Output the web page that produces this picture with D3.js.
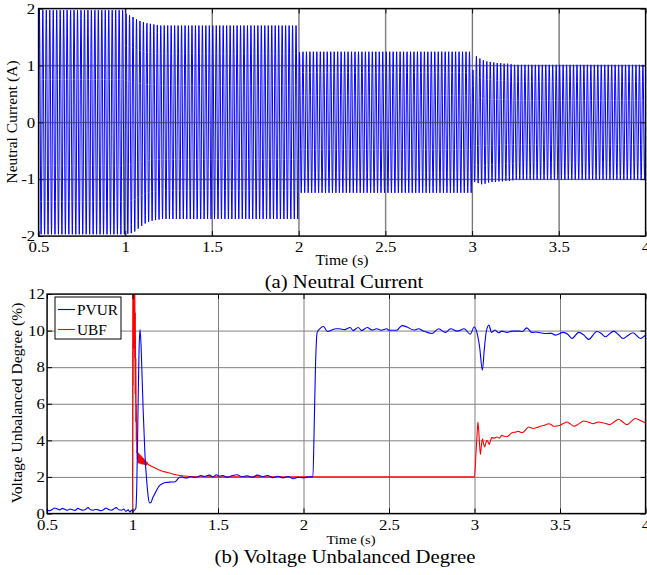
<!DOCTYPE html>
<html><head><meta charset="utf-8">
<script src="https://cdn.jsdelivr.net/npm/d3@7"></script>
<style>
body{margin:0;background:#fff;}
svg{display:block;font-family:"Liberation Serif","Times New Roman",serif;}
</style></head><body>
<svg id="fig" width="647" height="575"></svg>
<script>
// ---------- data ----------
const timeTicks = [0.5, 1, 1.5, 2, 2.5, 3, 3.5, 4];
const currentTicks = [-2, -1, 0, 1, 2];
const degreeTicks = [0, 2, 4, 6, 8, 10, 12];

// neutral current: 50 Hz supply, peak values per cycle
const supplyFreq = 50;
// [start s, end s, positive peak A, negative peak A]
const currentSteady = [
  [0.5, 1.0, 1.97, -1.97],
  [1.0, 2.0, 1.70, -1.70],
  [2.0, 3.0, 1.24, -1.24],
  [3.0, 4.0, 1.01, -1.01]
];
// cycle peaks just after each load step
const stepPos = {
  "1": [1.91, 1.88, 1.85, 1.81, 1.78, 1.76, 1.74, 1.73, 1.72, 1.71],
  "2": [1.23],
  "3": [0.92, 1.16, 1.12, 1.09, 1.07, 1.06, 1.05, 1.04, 1.04, 1.03, 1.03, 1.02]
};
const stepNeg = {
  "1": [-1.96, -1.95, -1.92, -1.87, -1.82, -1.78, -1.75, -1.73, -1.72, -1.71],
  "2": [-1.24],
  "3": [-1.05, -1.07, -1.09, -1.08, -1.06, -1.05, -1.05, -1.04, -1.04, -1.03, -1.03, -1.02]
};

// voltage unbalanced degree (%) : [time s, value]
const pvur = [
  [0.5,0.2],[0.515,0.15],[0.53,0.22],[0.545,0.3],[0.56,0.25],[0.575,0.2],[0.59,0.28],[0.605,0.22],
  [0.62,0.18],[0.635,0.25],[0.65,0.2],[0.665,0.17],[0.68,0.28],[0.695,0.22],[0.71,0.18],[0.725,0.22],
  [0.74,0.32],[0.755,0.2],[0.77,0.18],[0.785,0.22],[0.8,0.2],[0.815,0.15],[0.83,0.2],[0.845,0.3],
  [0.86,0.22],[0.875,0.18],[0.89,0.25],[0.905,0.32],[0.92,0.2],[0.935,0.18],[0.95,0.25],[0.96,0.12],
  [0.975,0.2],[0.985,0.08],[0.995,0.18],[1.005,0.12],[1.015,0.22],[1.02,0.3],[1.025,1.5],[1.032,5.5],
  [1.038,8.8],[1.044,10.05],[1.05,9.2],[1.057,7.2],[1.063,5.5],[1.073,3.2],[1.083,1.8],[1.092,0.9],
  [1.1,0.58],[1.108,0.6],[1.118,0.85],[1.132,1.1],[1.15,1.42],[1.161,1.55],[1.18,1.66],[1.2,1.7],
  [1.225,1.72],[1.25,1.74],[1.262,1.85],[1.275,1.98],[1.29,2.0],[1.3,1.96],[1.32,1.95],[1.34,2.02],
  [1.36,1.98],[1.38,2.0],[1.4,2.08],[1.42,2.02],[1.45,2.1],[1.47,2.0],[1.49,2.12],[1.51,2.04],
  [1.53,2.08],[1.55,1.98],[1.58,2.06],[1.61,2.12],[1.64,2.02],[1.67,2.06],[1.7,1.98],[1.73,2.1],
  [1.76,2.02],[1.79,2.08],[1.82,1.96],[1.85,2.04],[1.88,1.95],[1.91,2.02],[1.94,1.9],[1.97,1.98],
  [2.0,1.95],[2.03,2.0],[2.055,2.0],[2.062,4.5],[2.07,8.0],[2.08,9.9],[2.095,10.1],[2.117,10.22],
  [2.14,9.95],[2.17,10.05],[2.19,10.1],[2.207,10.1],[2.24,10.05],[2.273,10.17],[2.29,10.0],[2.32,10.17],
  [2.34,10.0],[2.373,10.17],[2.4,10.03],[2.428,10.1],[2.455,10.02],[2.487,10.1],[2.5,10.02],[2.545,10.02],
  [2.576,10.27],[2.605,10.2],[2.645,10.03],[2.673,10.1],[2.7,9.98],[2.751,9.84],[2.79,10.1],[2.83,9.9],
  [2.86,10.1],[2.9,9.97],[2.94,10.1],[2.975,9.8],[2.998,10.2],[3.014,9.9],[3.03,9.1],[3.046,7.84],
  [3.057,8.93],[3.069,9.95],[3.084,10.3],[3.1,9.9],[3.12,10.03],[3.14,9.88],[3.16,9.97],[3.19,9.9],
  [3.22,9.97],[3.258,9.97],[3.28,9.95],[3.306,10.15],[3.335,9.9],[3.36,9.92],[3.385,9.88],[3.424,9.84],
  [3.45,9.85],[3.473,9.75],[3.52,9.9],[3.545,9.8],[3.57,9.57],[3.61,9.9],[3.64,9.75],[3.668,9.52],
  [3.716,9.95],[3.74,9.85],[3.765,9.66],[3.814,9.97],[3.84,9.8],[3.869,9.57],[3.9,9.75],[3.927,9.88],
  [3.97,9.57],[4.0,9.75]
];
const ubf = [
  [0.5,0],[1.0,0],[1.002,12.8],[1.0035,7.0],[1.005,13],[1.0065,9],[1.008,13],[1.0095,10.5],[1.011,13],
  [1.0125,8.5],[1.014,12.5],[1.0155,6.5],[1.017,11],[1.0185,5],[1.02,8.5],[1.0215,4],[1.023,6],
  [1.0245,3.3],[1.026,4.2],[1.0275,3.0],[1.03,3.35],[1.0325,2.78],[1.035,3.3],[1.0375,2.75],[1.04,3.25],
  [1.0425,2.74],[1.045,3.2],[1.0475,2.72],[1.05,3.15],[1.0525,2.71],[1.055,3.1],[1.0575,2.7],[1.06,3.05],
  [1.0625,2.69],[1.065,3.0],[1.0675,2.68],[1.07,2.95],[1.0725,2.67],[1.075,2.9],[1.0775,2.66],[1.08,2.84],
  [1.0825,2.66],[1.085,2.78],[1.09,2.7],[1.1,2.64],[1.12,2.54],[1.16,2.37],[1.2,2.25],[1.24,2.15],
  [1.28,2.08],[1.32,2.04],[1.4,2.01],[1.5,2.0],[2.0,2.0],[2.5,2.0],[3.0,2.0],[3.008,3.2],[3.015,4.3],
  [3.02,5.0],[3.027,4.2],[3.034,3.23],[3.04,3.7],[3.047,4.09],[3.053,3.8],[3.059,3.64],[3.066,3.85],
  [3.073,4.0],[3.08,3.9],[3.086,3.78],[3.094,4.0],[3.102,4.15],[3.115,4.12],[3.131,4.18],[3.145,4.12],
  [3.16,4.27],[3.175,4.22],[3.19,4.2],[3.205,4.3],[3.219,4.42],[3.24,4.45],[3.258,4.49],[3.275,4.42],
  [3.287,4.46],[3.3,4.58],[3.316,4.73],[3.33,4.68],[3.345,4.65],[3.365,4.7],[3.385,4.77],[3.41,4.82],
  [3.433,4.91],[3.45,4.85],[3.46,4.77],[3.48,4.78],[3.5,4.82],[3.52,4.92],[3.541,5.0],[3.56,4.9],
  [3.58,4.77],[3.61,4.9],[3.638,5.06],[3.665,5.0],[3.695,4.91],[3.725,5.0],[3.755,4.95],[3.775,4.9],
  [3.79,4.86],[3.815,5.0],[3.843,5.15],[3.865,5.02],[3.892,4.86],[3.915,5.02],[3.94,5.19],[3.97,5.08],
  [4.0,4.95]
];

// ---------- layout ----------
const svg = d3.select("#fig");
const SX = 1.12;           // horizontal glyph stretch of the figure text
const gridColor = "#808080";

function label(g, x, y, txt, size, opts = {}) {
  const t = g.append("text")
    .attr("transform", opts.rotate
      ? `translate(${x},${y}) rotate(-90)`
      : `translate(${x},${y}) scale(${SX},1)`)
    .attr("text-anchor", "middle")
    .attr("font-size", size)
    .attr("fill", "#000")
    .text(txt);
  return t;
}

function panel(cfg) {
  const {x, y, yTicks, clipId} = cfg;
  const [L, R] = x.range(), [B, T] = y.range();
  const g = svg.append("g");

  g.append("clipPath").attr("id", clipId)
    .append("rect").attr("x", L).attr("y", T).attr("width", R - L).attr("height", B - T);

  const gridV = g.append("g").attr("class", "grid");
  const gridH = g.append("g").attr("class", "grid");
  gridV.attr("transform", `translate(0,${B})`)
    .call(d3.axisBottom(x).tickValues(timeTicks).tickSize(-(B - T)).tickFormat(""));
  gridH.attr("transform", `translate(${L},0)`)
    .call(d3.axisLeft(y).tickValues(yTicks).tickSize(-(R - L)).tickFormat(""));
  g.selectAll(".grid .domain").remove();
  g.selectAll(".grid line").attr("stroke", gridColor).attr("stroke-width", 1);

  const data = g.append("g").attr("clip-path", `url(#${clipId})`);

  // inward tick marks on all four sides, labels bottom and left
  const tk = 5;
  const ax = [
    g.append("g").attr("transform", `translate(0,${B})`)
      .call(d3.axisBottom(x).tickValues(timeTicks).tickSizeInner(-tk).tickSizeOuter(0)
        .tickPadding(cfg.xPad).tickFormat(d => String(d))),
    g.append("g").attr("transform", `translate(0,${T})`)
      .call(d3.axisTop(x).tickValues(timeTicks).tickSizeInner(-tk).tickSizeOuter(0).tickFormat("")),
    g.append("g").attr("transform", `translate(${L},0)`)
      .call(d3.axisLeft(y).tickValues(yTicks).tickSizeInner(-tk).tickSizeOuter(0)
        .tickPadding(cfg.yPad).tickFormat(d => String(d))),
    g.append("g").attr("transform", `translate(${R},0)`)
      .call(d3.axisRight(y).tickValues(yTicks).tickSizeInner(-tk).tickSizeOuter(0).tickFormat(""))
  ];
  ax.forEach(a => {
    a.select(".domain").remove();
    a.selectAll("line").attr("stroke", "#000");
    a.selectAll("text")
      .attr("font-family", "Liberation Serif, Times New Roman, serif")
      .attr("font-size", 15).attr("fill", "#000")
      .attr("transform", `scale(${SX},1)`);
  });

  return {g, data, frame: () => g.append("rect")
    .attr("x", L).attr("y", T).attr("width", R - L).attr("height", B - T)
    .attr("fill", "none").attr("stroke", "#000").attr("stroke-width", 1.3)};
}

// ---------- (a) neutral current ----------
const xA = d3.scaleLinear().domain([0.5, 4]).range([38.5, 645.5]);
const yA = d3.scaleLinear().domain([-2, 2]).range([236, 8.5]);
const pA = panel({x: xA, y: yA, yTicks: currentTicks, clipId: "clipA", xPad: 5, yPad: 3});

// one sample list built from the per-cycle peaks
const samples = [];
const perCycle = 16, period = 1 / supplyFreq;
currentSteady.forEach(([t0, t1, pk, nk]) => {
  const n = Math.round((t1 - t0) * supplyFreq);
  const key = String(t0);
  for (let i = 0; i < n; i++) {
    const pos = (stepPos[key] && stepPos[key][i] !== undefined) ? stepPos[key][i] : pk;
    const neg = (stepNeg[key] && stepNeg[key][i] !== undefined) ? stepNeg[key][i] : nk;
    const tc = t0 + i * period;
    for (let j = 0; j < perCycle; j++) {
      const s = Math.sin(2 * Math.PI * j / perCycle);
      samples.push([tc + j * period / perCycle, s >= 0 ? s * pos : -s * neg]);
    }
  }
});
samples.push([4, 0]);

pA.data.append("path")
  .datum(samples)
  .attr("fill", "none").attr("stroke", "#0000ff").attr("stroke-width", 1)
  .attr("d", d3.line().x(d => xA(d[0])).y(d => yA(d[1])));

// grid shows through the dense waveform
pA.g.append("g").attr("clip-path", "url(#clipA)")
  .selectAll("line.hg").data(currentTicks.slice(1, -1)).join("line")
  .attr("x1", xA.range()[0]).attr("x2", xA.range()[1])
  .attr("y1", d => yA(d)).attr("y2", d => yA(d))
  .attr("stroke", "#404080").attr("stroke-opacity", 0.55);
pA.g.append("g")
  .selectAll("line.vg").data(timeTicks.slice(1, -1)).join("line")
  .attr("y1", yA.range()[0]).attr("y2", yA.range()[1])
  .attr("x1", d => xA(d)).attr("x2", d => xA(d))
  .attr("stroke", "#404040").attr("stroke-opacity", 0.45);
pA.frame();

label(svg, 342, 265, "Time (s)", 14);
label(svg, 344, 288, "(a) Neutral Current", 18.5);
label(svg, 17, 122, "Neutral Current (A)", 15.5, {rotate: true});

// ---------- (b) voltage unbalanced degree ----------
const xB = d3.scaleLinear().domain([0.5, 4]).range([47, 645.5]);
const yB = d3.scaleLinear().domain([0, 12]).range([513.5, 294]);
const pB = panel({x: xB, y: yB, yTicks: degreeTicks, clipId: "clipB", xPad: 6, yPad: 2});

const lineB = d3.line().x(d => xB(d[0])).y(d => yB(d[1])).curve(d3.curveMonotoneX);
pB.data.append("path").datum(ubf)
  .attr("fill", "none").attr("stroke", "#ff0000").attr("stroke-width", 1.1).attr("d", lineB);
pB.data.append("path").datum(pvur)
  .attr("fill", "none").attr("stroke", "#0000ff").attr("stroke-width", 1.1).attr("d", lineB);
pB.frame();

// legend
const series = [{name: "PVUR", color: "#0000ff"}, {name: "UBF", color: "#ff0000"}];
const lg = svg.append("g").attr("transform", "translate(55,297)");
lg.append("rect").attr("width", 66).attr("height", 42)
  .attr("fill", "#fff").attr("stroke", "#000").attr("stroke-width", 1);
series.forEach((s, i) => {
  const yy = 12.5 + i * 20;
  lg.append("line").attr("x1", 3).attr("x2", 20).attr("y1", yy).attr("y2", yy)
    .attr("stroke", s.color).attr("stroke-width", 1.1);
  lg.append("text").attr("transform", `translate(22,${yy + 5}) scale(${SX * 0.98},1)`)
    .attr("font-size", 14).text(s.name);
});

label(svg, 351, 544, "Time (s)", 13);
label(svg, 345, 563, "(b) Voltage Unbalanced Degree", 18.5);
label(svg, 22, 403, "Voltage Unbalanced Degree (%)", 15.5, {rotate: true});
</script>
</body></html>
